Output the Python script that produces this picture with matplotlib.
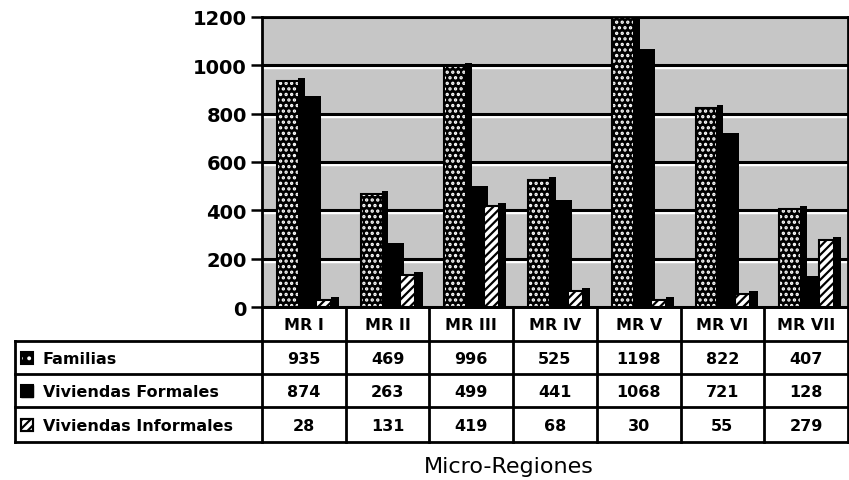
import numpy as np
import matplotlib
matplotlib.use("Agg")
import matplotlib.pyplot as plt
from matplotlib.patches import Rectangle

categories = ["MR I", "MR II", "MR III", "MR IV", "MR V", "MR VI", "MR VII"]
series_names = ["Familias", "Viviendas Formales", "Viviendas Informales"]
familias = [935, 469, 996, 525, 1198, 822, 407]
formales = [874, 263, 499, 441, 1068, 721, 128]
informales = [28, 131, 419, 68, 30, 55, 279]
yticks = [0, 200, 400, 600, 800, 1000, 1200]
xlabel = "Micro-Regiones"

W, H = 849, 481
plt.rcParams['font.family'] = ['DejaVu Sans']
plt.rcParams['hatch.linewidth'] = 1.6
fig = plt.figure(figsize=(W / 100, H / 100), dpi=100)

# layout in pixels
ax_l, ax_r, ax_t, ax_b = 262, 848, 18, 308
ax = fig.add_axes([ax_l / W, 1 - ax_b / H, (ax_r - ax_l) / W, (ax_b - ax_t) / H])
ax.set_facecolor('#c6c6c6')
n = len(categories)
x = np.arange(n)
ax.set_xlim(0, n)
ax.set_ylim(0, 1200)
ax.set_yticks(yticks)
ax.set_xticks([])
ax.yaxis.grid(True, color='black', lw=2.2)
ax.set_axisbelow(True)
for v in yticks[1:-1]:
    ax.axhline(v - 8, color='white', lw=2.5, zorder=0.5)
ax.tick_params(axis='y', direction='out', length=8, width=1.8, pad=3,
               labelsize=14)
for lab in ax.get_yticklabels():
    lab.set_fontweight('bold')
for s in ax.spines.values():
    s.set_linewidth(2)
    s.set_color('black')

fam = np.array(familias)
frm = np.array(formales)
inf = np.array(informales)

# Familias: dotted front + dark side
ax.bar(x + 0.43, fam + 12, width=0.08, align='edge', color='black', zorder=2)
ax.bar(x + 0.18, fam, width=0.26, align='edge', facecolor='black',
       edgecolor='white', hatch='...', linewidth=0, zorder=3)
ax.bar(x + 0.18, fam, width=0.26, align='edge', facecolor='none',
       edgecolor='black', linewidth=1.5, zorder=3.1)
# Formales: solid black
ax.bar(x + 0.48, frm, width=0.22, align='edge', color='black', zorder=4)
# Informales: hatched front + dark side
ax.bar(x + 0.82, inf + 12, width=0.1, align='edge', color='black', zorder=5)
ax.bar(x + 0.65, inf, width=0.18, align='edge', facecolor='white',
       edgecolor='black', hatch='////', linewidth=1.5, zorder=6)

# overlay for the data table
ov = fig.add_axes([0, 0, 1, 1], zorder=10)
ov.set_xlim(0, W)
ov.set_ylim(H, 0)
ov.axis('off')
ov.patch.set_alpha(0)

colw = (ax_r - ax_l) / n
col_edges = [ax_l + i * colw for i in range(n + 1)]
row_edges = [ax_b, 342, 375, 408, 443]
lw = 2
ov.plot([ax_l, ax_r], [row_edges[0], row_edges[0]], color='black', lw=lw)
for y in row_edges[1:]:
    ov.plot([15, ax_r], [y, y], color='black', lw=lw)
for xe in col_edges:
    ov.plot([xe, xe], [row_edges[0], row_edges[-1]], color='black', lw=lw)
ov.plot([15, 15], [row_edges[1], row_edges[-1]], color='black', lw=lw)

tfs = 11.5
for i, c in enumerate(categories):
    xc = (col_edges[i] + col_edges[i + 1]) / 2
    ov.text(xc, (row_edges[0] + row_edges[1]) / 2 + 1, c, ha='center', va='center',
            fontsize=tfs, fontweight='bold')
rows = [familias, formales, informales]
for r, vals in enumerate(rows):
    yc = (row_edges[r + 1] + row_edges[r + 2]) / 2 + 1
    for i, v in enumerate(vals):
        xc = (col_edges[i] + col_edges[i + 1]) / 2
        ov.text(xc, yc, str(v), ha='center', va='center', fontsize=tfs,
                fontweight='bold')
    ov.text(43, yc, series_names[r], ha='left', va='center', fontsize=tfs,
            fontweight='bold')

# legend keys
ks = 12
key_styles = [dict(facecolor='black', edgecolor='white', hatch='..', linewidth=0),
              dict(facecolor='black', edgecolor='black', linewidth=1),
              dict(facecolor='white', edgecolor='black', hatch='////', linewidth=1.5)]
for r, st in enumerate(key_styles):
    yc = (row_edges[r + 1] + row_edges[r + 2]) / 2
    ov.add_patch(Rectangle((21, yc - ks / 2), ks, ks, **st))
    ov.add_patch(Rectangle((21, yc - ks / 2), ks, ks, facecolor='none',
                           edgecolor='black', linewidth=1.5))

ov.text(509, 467, xlabel, ha='center', va='center', fontsize=16)

fig.savefig('out.png', dpi=100)
